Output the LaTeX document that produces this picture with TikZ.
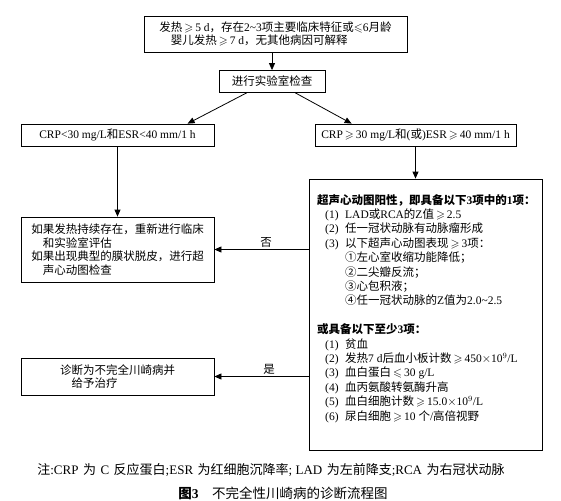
\documentclass[tikz,border=0pt]{standalone}
\usepackage{amssymb}
\usepackage{fontspec}
\setmainfont{Liberation Serif}
\newfontfamily\cjk{Noto Sans CJK SC}
\newcommand\zh[1]{{\cjk #1}}
\usetikzlibrary{arrows.meta}
\tikzset{
  box/.style={draw=black, line width=0.8pt, inner sep=0pt, align=left,
    font=\fontsize{11.5}{13.5}\selectfont},
  arr/.style={line width=0.8pt, -{Triangle[length=7pt,width=6pt]}},
  lbl/.style={font=\fontsize{11.5}{13.5}\selectfont, inner sep=1.5pt},
  txt/.style={inner sep=0pt, align=left, font=\fontsize{11.5}{14.4}\selectfont}
}
\begin{document}
\begin{tikzpicture}[x=1pt,y=-1pt]
\useasboundingbox (0,0) rectangle (561,500);
% top box
\node[box, minimum width=263pt, minimum height=36pt] (top) at (275.5,34)
  {\zh{发热}$\,\geqslant\,$5 d\zh{，存在}2\textasciitilde3\zh{项主要临床特征或}$\leqslant$6\zh{月龄}\\
   \hspace*{1em}\zh{婴儿发热}$\,\geqslant\,$7 d\zh{，无其他病因可解释}};
% lab
\node[box, minimum width=106pt, minimum height=22pt] (lab) at (272,81.5) {\zh{进行实验室检查}};
% CRP boxes
\node[box, minimum width=193pt, minimum height=22pt] (low) at (117.5,135) {CRP<30 mg/L\zh{和}ESR<40 mm/1 h};
\node[box, minimum width=201pt, minimum height=22pt] (high) at (415.5,135) {CRP$\,\geqslant\,$30 mg/L\zh{和}(\zh{或})ESR$\,\geqslant\,$40 mm/1 h};
% persist box
\node[box, minimum width=193pt, minimum height=65pt] (persist) at (117.5,249.5)
  {\zh{如果发热持续存在，重新进行临床}\\
   \hspace*{1em}\zh{和实验室评估}\\
   \zh{如果出现典型的膜状脱皮，进行超}\\
   \hspace*{1em}\zh{声心动图检查}};
% diagnosis box
\node[box, minimum width=193pt, minimum height=37pt] (diag) at (117.5,376.5)
  {\zh{诊断为不完全川崎病并}\\
   \hspace*{1em}\zh{给予治疗}};
% echo box
\node[draw=black, line width=0.8pt, minimum width=233pt, minimum height=271pt, inner sep=0pt] (echo) at (425.5,314.5) {};
\node[txt, anchor=north west] (echotxt) at (317,194)
  {{\bfseries\zh{超声心动图阳性，即具备以下}3\zh{项中的}1\zh{项：}}\\
   \hspace*{8pt}\makebox[20pt][l]{(1)}LAD\zh{或}RCA\zh{的}Z\zh{值}$\,\geqslant\,$2.5\\
   \hspace*{8pt}\makebox[20pt][l]{(2)}\zh{任一冠状动脉有动脉瘤形成}\\
   \hspace*{8pt}\makebox[20pt][l]{(3)}\zh{以下超声心动图表现}$\,\geqslant\,$3\zh{项：}\\
   \hspace*{28pt}\zh{①左心室收缩功能降低；}\\
   \hspace*{28pt}\zh{②二尖瓣反流；}\\
   \hspace*{28pt}\zh{③心包积液；}\\
   \hspace*{28pt}\zh{④任一冠状动脉的}Z\zh{值为}2.0\textasciitilde2.5\\[14.4pt]
   {\bfseries\zh{或具备以下至少}3\zh{项：}}\\
   \hspace*{8pt}\makebox[20pt][l]{(1)}\zh{贫血}\\
   \hspace*{8pt}\makebox[20pt][l]{(2)}\zh{发热}7 d\zh{后血小板计数}$\,\geqslant\,$450$\times$10$^9$/L\\
   \hspace*{8pt}\makebox[20pt][l]{(3)}\zh{血白蛋白}$\,\leqslant\,$30 g/L\\
   \hspace*{8pt}\makebox[20pt][l]{(4)}\zh{血丙氨酸转氨酶升高}\\
   \hspace*{8pt}\makebox[20pt][l]{(5)}\zh{血白细胞计数}$\,\geqslant\,$15.0$\times$10$^9$/L\\
   \hspace*{8pt}\makebox[20pt][l]{(6)}\zh{尿白细胞}$\,\geqslant\,$10 \zh{个}/\zh{高倍视野}};
% connectors
\draw[arr] (top.south -| lab.north) -- (lab.north);
\draw[arr] ([xshift=28pt]lab.south west) -- ([xshift=167pt]low.north west);
\draw[arr] ([xshift=-30pt]lab.south east) -- ([xshift=37pt]high.north west);
\draw[arr] (low.south) -- (persist.north);
\draw[arr] (high.south) -- (high.south |- echo.north);
\draw[arr] (echo.west |- persist.east) -- node[lbl, pos=0.45, above] (no) {\zh{否}} (persist.east);
\draw[arr] (echo.west |- diag.east) -- node[lbl, pos=0.42, above] (yes) {\zh{是}} (diag.east);
% caption
\node[inner sep=0pt, font=\fontsize{13}{14}\selectfont] (note) at (271,470)
  {\zh{注}:CRP\hspace{4.5pt}\zh{为}\hspace{4.5pt}C\hspace{4.5pt}\zh{反应蛋白};ESR\hspace{4.5pt}\zh{为红细胞沉降率}; LAD\hspace{4.5pt}\zh{为左前降支};RCA\hspace{4.5pt}\zh{为右冠状动脉}};
\node[inner sep=0pt, font=\fontsize{13.5}{15}\selectfont] (title) at (283,493)
  {{\bfseries\zh{图}3}\quad\zh{不完全性川崎病的诊断流程图}};
\end{tikzpicture}
\end{document}
